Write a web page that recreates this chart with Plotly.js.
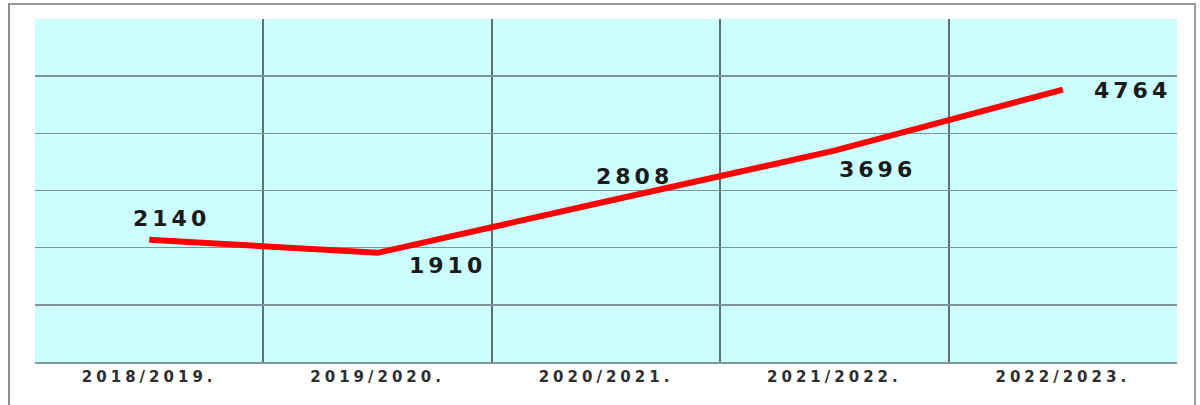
<!DOCTYPE html>
<html>
<head>
<meta charset="utf-8">
<script src="https://cdn.plot.ly/plotly-3.0.1.min.js"></script>
<style>
  html, body { margin: 0; padding: 0; background: #fff; }
  #wrap { position: relative; width: 1200px; height: 405px; }
  #chart { width: 1200px; height: 405px; }
  #frame {
    position: absolute; left: 8px; top: 3px; width: 1188px; height: 410px;
    border-left: 2px solid #8c8c8c; border-top: 2px solid #9a9a9a; border-right: 2px solid #9a9a9a;
    pointer-events: none; box-sizing: border-box;
  }
  /* the reference text is drawn wide, so spread the glyphs a little */
  #chart .annotation-text { letter-spacing: 4px; }
  #chart .xtick text { letter-spacing: 4px; }
</style>
</head>
<body>
<div id="wrap">
  <div id="chart"></div>
  <div id="frame"></div>
</div>
<script>
const seasons = ["2018/2019.", "2019/2020.", "2020/2021.", "2021/2022.", "2022/2023."];
const students = [2140, 1910, 2808, 3696, 4764];

// label offsets around each point (px)
const labelShiftX = [22, 70, 28, 43, 70];
const labelShiftY = [21, -13, 25, -19, -1];

const line = {
    x: seasons,
    y: students,
    type: "scatter",
    mode: "lines",
    line: {color: "#ff0000", width: 6},
    hoverinfo: "skip"
};

const labels = seasons.map((s, i) => ({
    x: s,
    y: students[i],
    text: String(students[i]),
    showarrow: false,
    xshift: labelShiftX[i],
    yshift: labelShiftY[i],
    font: {family: "DejaVu Sans", size: 22, color: "#1a1a1a", weight: "bold"}
}));

const layout = {
    width: 1200,
    height: 405,
    paper_bgcolor: "#ffffff",
    plot_bgcolor: "#ccffff",
    showlegend: false,
    margin: {l: 35, r: 23, t: 19, b: 43},
    xaxis: {
        type: "category",
        range: [-0.5, 4.5],
        tickson: "boundaries",
        showgrid: true,
        gridcolor: "#5f7272",
        gridwidth: 2,
        showline: true,
        linecolor: "#7f9898",
        linewidth: 2,
        ticks: "",
        tickfont: {family: "DejaVu Sans", size: 15, color: "#2e2e2e", weight: "bold"},
        fixedrange: true
    },
    yaxis: {
        range: [0, 6000],
        dtick: 1000,
        showgrid: true,
        gridcolor: "#7f9494",
        gridwidth: 1.5,
        zeroline: false,
        showticklabels: false,
        ticks: "",
        fixedrange: true
    },
    annotations: labels
};

Plotly.newPlot("chart", [line], layout, {displayModeBar: false, staticPlot: true});
</script>
</body>
</html>
